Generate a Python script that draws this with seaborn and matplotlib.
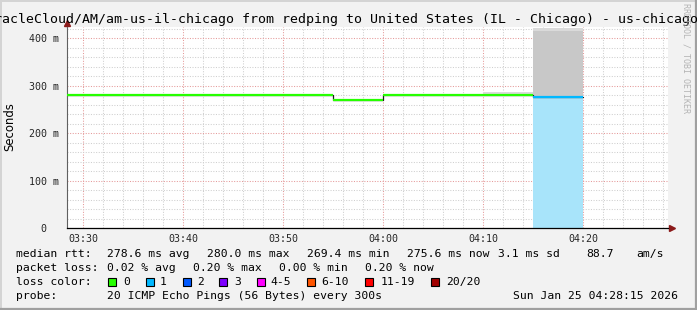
import numpy as np
import pandas as pd
import matplotlib
matplotlib.use("Agg")
import matplotlib.pyplot as plt
import matplotlib.dates as mdates
from matplotlib.ticker import MultipleLocator, FuncFormatter
from matplotlib.patches import Rectangle
from matplotlib.lines import Line2D
import seaborn as sns

# ---------------- data ----------------
day = "2026-01-25"
interval_start = ["03:25", "03:30", "03:35", "03:40", "03:45", "03:50",
                  "03:55", "04:00", "04:05", "04:10", "04:15"]
last_end = "04:20"
median_rtt_ms = [280.0, 280.0, 280.0, 280.0, 280.0, 280.0,
                 269.4, 280.0, 280.0, 280.0, 275.6]
smoke_inner_ms = [280.0, 280.0, 280.0, 280.0, 280.0, 280.0,
                  269.4, 280.0, 280.0, 280.0, 414.0]
smoke_outer_ms = [280.0, 280.0, 280.0, 280.0, 280.0, 280.0,
                  269.4, 280.0, 280.0, 287.0, 421.0]
lost_pings = [0, 0, 0, 0, 0, 0, 0, 0, 0, 0, 1]

loss_labels = ["0", "1", "2", "3", "4-5", "6-10", "11-19", "20/20"]
loss_colors = ["#26ff00", "#00b8ff", "#0059ff", "#7e00ff",
               "#ff00ff", "#ff5500", "#ff0000", "#a10000"]
loss_fill_color = "#a8e4fa"

title = ("OracleCloud/AM/am-us-il-chicago from redping to United States "
         "(IL - Chicago) - us-chicago")
x_start, x_end = "03:28:22", "04:28:28"
y_max = 423.2

legend_rows = [
    [(16, "median rtt:"), (107, "278.6 ms avg"), (207, "280.0 ms max"),
     (307, "269.4 ms min"), (407, "275.6 ms now"), (498, "3.1 ms sd"),
     (586, "88.7"), (636, "am/s")],
    [(16, "packet loss:"), (107, "0.02 % avg"), (193, "0.20 % max"),
     (279, "0.00 % min"), (365, "0.20 % now")],
    [(16, "loss color:")],
    [(16, "probe:"), (107, "20 ICMP Echo Pings (56 Bytes) every 300s"),
     (513, "Sun Jan 25 04:28:15 2026")],
]
loss_box_x = [108, 146, 183, 219, 257, 307, 365, 431]
loss_label_x = [123, 160, 197, 234, 270, 321, 381, 446]

# ---------------- build ----------------
starts = pd.to_datetime([f"{day} {t}" for t in interval_start])
ends = pd.to_datetime([f"{day} {t}" for t in interval_start[1:] + [last_end]])
step_df = pd.DataFrame({
    "time": list(starts) + [ends[-1]],
    "rtt": median_rtt_ms + [median_rtt_ms[-1]],
})

sns.set_style("white")
mono = "DejaVu Sans Mono"
plt.rcParams["font.family"] = ["DejaVu Sans"]

W, H = 697, 310
fig = plt.figure(figsize=(W / 100, H / 100), dpi=100, facecolor="#f2f2f2")
L, R, T, B = 67, 668, 27, 228
ax = fig.add_axes([L / W, 1 - B / H, (R - L) / W, (B - T) / H])
ax.set_facecolor("white")

edges = list(starts) + [ends[-1]]
inner = smoke_inner_ms + [smoke_inner_ms[-1]]
outer = smoke_outer_ms + [smoke_outer_ms[-1]]
base = median_rtt_ms + [median_rtt_ms[-1]]
ax.fill_between(edges, base, outer, step="post", color="#dadada", lw=0, zorder=0.6)
ax.fill_between(edges, base, inner, step="post", color="#c8c8c8", lw=0, zorder=0.7)
loss_base = [m if l > 0 else 0 for m, l in zip(median_rtt_ms, lost_pings)]
loss_base = loss_base + [loss_base[-1]]
ax.fill_between(edges, 0, loss_base, step="post", color=loss_fill_color, lw=0, zorder=0.8)

sns.lineplot(data=step_df, x="time", y="rtt", drawstyle="steps-post",
             color="#1a1a1a", lw=0.9, ax=ax, legend=False, zorder=2)
ax.hlines(median_rtt_ms, starts, ends,
          colors=[loss_colors[n] for n in lost_pings], lw=1.6, zorder=3)

ax.set_xlim(pd.Timestamp(f"{day} {x_start}"), pd.Timestamp(f"{day} {x_end}"))
ax.set_ylim(0, y_max)
ax.xaxis.set_major_locator(mdates.MinuteLocator(byminute=range(0, 60, 10)))
ax.xaxis.set_minor_locator(mdates.MinuteLocator(byminute=range(0, 60, 2)))
ax.xaxis.set_major_formatter(mdates.DateFormatter("%H:%M"))
ax.yaxis.set_major_locator(MultipleLocator(100))
ax.yaxis.set_minor_locator(MultipleLocator(20))
ax.yaxis.set_major_formatter(FuncFormatter(lambda v, p: f"{int(v)} m" if v else "0  "))

ax.grid(which="minor", color="#cfcfcf", ls=(0, (1, 1.5)), lw=0.75)
ax.grid(which="major", color="#e59a9a", ls=(0, (1, 1.5)), lw=0.75)
ax.set_xlabel("")
ax.set_ylabel("")

for s in ["top", "right"]:
    ax.spines[s].set_visible(False)
ax.spines["bottom"].set_color("black")
ax.spines["bottom"].set_linewidth(0.9)
ax.spines["left"].set_color("#606060")
ax.spines["left"].set_linewidth(0.8)

ax.tick_params(axis="both", which="major", direction="out", length=2, width=0.7,
               color="black", labelsize=7.2, pad=4)
ax.tick_params(axis="both", which="minor", direction="out", length=1.2, width=0.6,
               color="#808080")
ax.tick_params(axis="x", which="major", pad=2)
for lab in ax.get_xticklabels() + ax.get_yticklabels():
    lab.set_fontfamily(mono)

# arrows
ax.plot([0, 0], [1, 1 + 3 / (B - T)], transform=ax.transAxes, clip_on=False,
        color="#606060", lw=0.8)
ax.plot([0], [1 + 4 / (B - T)], marker="^", ms=4.5, color="#8b1a1a",
        transform=ax.transAxes, clip_on=False)
ax.plot([1 + 4 / (R - L)], [0], marker=">", ms=4.5, color="#8b1a1a",
        transform=ax.transAxes, clip_on=False)

def fx(x):
    return x / W

def fy(y):
    return 1 - y / H

fig.text(fx(-14), fy(19), title, ha="left", va="center", fontsize=9.5,
         family=mono, color="black")
fig.text(fx(10), fy(127), "Seconds", rotation=90, ha="center", va="center",
         fontsize=8.4, color="black")
fig.text(fx(686), fy(58), "RRDTOOL / TOBI OETIKER", rotation=270, ha="center",
         va="center", fontsize=6, family=mono, color="#b4b4b4")

LFS = 8.2
row_y = [254, 268, 282, 296]
for ry, row in zip(row_y, legend_rows):
    for x, s in row:
        fig.text(fx(x), fy(ry), s, ha="left", va="center", fontsize=LFS,
                 family=mono, color="black")
for bx, lx, col, lab in zip(loss_box_x, loss_label_x, loss_colors, loss_labels):
    fig.add_artist(Rectangle((fx(bx), fy(286)), 8 / W, 8 / H,
                             transform=fig.transFigure, facecolor=col,
                             edgecolor="black", lw=0.8))
    fig.text(fx(lx), fy(282), lab, ha="left", va="center", fontsize=LFS,
             family=mono, color="black")

# frame shading
fig.add_artist(Line2D([0, 1], [1 - 0.5 / H] * 2, transform=fig.transFigure, color="#d4d4d4", lw=1.4))
fig.add_artist(Line2D([0.5 / W] * 2, [0, 1], transform=fig.transFigure, color="#d4d4d4", lw=1.4))
fig.add_artist(Line2D([0, 1], [1.0 / H] * 2, transform=fig.transFigure, color="#a0a0a0", lw=1.6))
fig.add_artist(Line2D([1 - 1.0 / W] * 2, [0, 1], transform=fig.transFigure, color="#a0a0a0", lw=1.6))

fig.savefig("out.png", dpi=100, facecolor=fig.get_facecolor())
